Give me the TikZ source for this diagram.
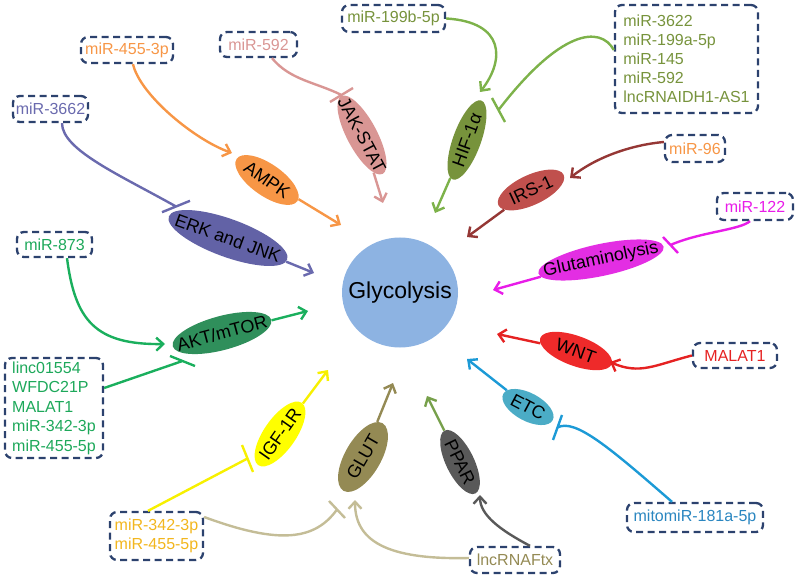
\documentclass[tikz,border=0pt]{standalone}
\usepackage{fontspec}
\setmainfont{Liberation Sans}
\usetikzlibrary{arrows.meta,shapes.geometric}
\definecolor{boxc}{RGB}{44,66,110}
\definecolor{orangeC}{HTML}{F79646}
\definecolor{pinkC}{HTML}{D99694}
\definecolor{hifC}{HTML}{77933C}
\definecolor{hifL}{HTML}{7DB24A}
\definecolor{irsC}{HTML}{C0504D}
\definecolor{irsL}{HTML}{953735}
\definecolor{erkC}{HTML}{6262A6}
\definecolor{erkL}{HTML}{6A6AAE}
\definecolor{magC}{HTML}{E32EE3}
\definecolor{magL}{HTML}{E81CE8}
\definecolor{aktC}{HTML}{2F8F5B}
\definecolor{aktL}{HTML}{1AAF5D}
\definecolor{aktT}{HTML}{1DA85A}
\definecolor{wntC}{HTML}{EE2A2A}
\definecolor{wntL}{HTML}{E52222}
\definecolor{etcC}{HTML}{4BACC6}
\definecolor{etcL}{HTML}{1C9AD6}
\definecolor{etcT}{HTML}{2A86C0}
\definecolor{igfC}{HTML}{FFFF00}
\definecolor{igfL}{HTML}{F7F000}
\definecolor{igfT}{HTML}{F2B61E}
\definecolor{glutC}{HTML}{948A54}
\definecolor{beige}{HTML}{C4BD97}
\definecolor{pparC}{HTML}{595959}
\definecolor{pparL}{HTML}{77A04B}
\definecolor{glyC}{HTML}{8DB3E2}
\begin{document}
\begin{tikzpicture}[x=1pt,y=-1pt,
  ell/.style={ellipse, inner sep=0pt, font=\fontsize{18}{20}\selectfont, text=black},
  box/.style={draw=boxc, line width=2.3pt, dash pattern=on 7pt off 4.5pt, rounded corners=7pt, inner sep=0pt, font=\fontsize{16}{19}\selectfont},
  con/.style={line width=2.4pt},
  act/.style={con, -{Straight Barb[length=7pt,width=13pt]}},
]
\useasboundingbox (0,0) rectangle (800,577);
% central node
\node[ellipse, fill=glyC, minimum width=116pt, minimum height=110pt, inner sep=0pt,
  font=\fontsize{23}{25}\selectfont] (gly) at (400,292.5) {\makebox[0pt]{Glycolysis}};
% pathway ellipses
\node[ell, fill=orangeC, minimum width=74pt, minimum height=32pt, rotate=-35] (ampk) at (267,180) {\makebox[0pt]{AMPK}};
\node[ell, fill=erkC, minimum width=126pt, minimum height=38pt, rotate=-20] (erk) at (228,238) {\makebox[0pt]{ERK and JNK}};
\node[ell, fill=pinkC, minimum width=88pt, minimum height=30pt, rotate=-62] (jak) at (362,135) {\makebox[0pt]{JAK-STAT}};
\node[ell, fill=hifC, minimum width=84pt, minimum height=28pt, rotate=70] (hif) at (467,140) {\makebox[0pt]{HIF-1α}};
\node[ell, fill=irsC, minimum width=72pt, minimum height=30pt, rotate=25] (irs) at (531,190) {\makebox[0pt]{IRS-1}};
\node[ell, fill=magC, minimum width=128pt, minimum height=32pt, rotate=12] (glm) at (601,260) {\makebox[0pt]{Glutaminolysis}};
\node[ell, fill=aktC, minimum width=102pt, minimum height=34pt, rotate=15] (akt) at (222,333) {\makebox[0pt]{AKT/mTOR}};
\node[ell, fill=wntC, minimum width=76pt, minimum height=30pt, rotate=-20] (wnt) at (576,351) {\makebox[0pt]{WNT}};
\node[ell, fill=etcC, minimum width=56pt, minimum height=28pt, rotate=-28] (etc) at (528,407) {\makebox[0pt]{ETC}};
\node[ell, fill=igfC, minimum width=76pt, minimum height=32pt, rotate=55] (igf) at (280,434) {\makebox[0pt]{IGF-1R}};
\node[ell, fill=glutC, minimum width=78pt, minimum height=36pt, rotate=60] (glut) at (363,457) {\makebox[0pt]{GLUT}};
\node[ell, fill=pparC, minimum width=70pt, minimum height=28pt, rotate=-64] (ppar) at (460,462) {\makebox[0pt]{PPAR}};
% regulator boxes
\node[box, text=orangeC, minimum width=92pt, minimum height=26pt] (b455) at (127,50) {miR-455-3p};
\node[box, text=pinkC, minimum width=77pt, minimum height=25pt] (b592) at (258.5,44.5) {miR-592};
\node[box, text=hifC, minimum width=103pt, minimum height=27pt] (b199b) at (393.5,18.5) {miR-199b-5p};
\node[box, text=hifC, minimum width=143pt, minimum height=108pt, align=left] (bhif) at (686.5,59)
  {miR-3622\\miR-199a-5p\\miR-145\\miR-592\\lncRNAIDH1-AS1};
\node[box, text=erkL, minimum width=75pt, minimum height=26pt] (b3662) at (50.5,109) {miR-3662};
\node[box, text=orangeC, minimum width=60pt, minimum height=27pt] (b96) at (695,148.5) {miR-96};
\node[box, text=magL, minimum width=76pt, minimum height=27pt] (b122) at (755,206.5) {miR-122};
\node[box, text=aktT, minimum width=75pt, minimum height=25pt] (b873) at (54.5,244.5) {miR-873};
\node[box, text=aktT, minimum width=98pt, minimum height=100pt, align=left,
  font=\fontsize{16}{19.5}\selectfont] (bakt) at (54,408)
  {linc01554\\WFDC21P\\MALAT1\\miR-342-3p\\miR-455-5p};
\node[box, text=wntL, minimum width=84pt, minimum height=25pt] (bmalat) at (735,355.5) {MALAT1};
\node[box, text=etcT, minimum width=136pt, minimum height=29pt] (bmito) at (695,517.5) {mitomiR-181a-5p};
\node[box, text=igfT, minimum width=93pt, minimum height=48pt, align=left,
  font=\fontsize{16}{18.5}\selectfont] (bigf) at (156.5,536) {miR-342-3p\\miR-455-5p};
\node[box, text=glutC, minimum width=90pt, minimum height=26pt] (bftx) at (515,560) {lncRNAFtx};
% connector ends
\coordinate (aAMPK) at (232,153);
\coordinate (aHIF) at (480,92);
\coordinate (aIRS) at (570,178);
\coordinate (aAKT) at (165,344);
\coordinate (aWNT) at (610,362);
\coordinate (aGLUT) at (355,500);
\coordinate (aPPAR) at (480,495);
\coordinate (iJAK) at (341.5,95);
\coordinate (iHIF) at (498.5,110);
\coordinate (iERK) at (176,206.5);
\coordinate (iGLM) at (670.5,245);
\coordinate (iAKT) at (182.5,361);
\coordinate (iIGF) at (247.5,458.5);
\coordinate (iGLUT) at (337,509.5);
\coordinate (iETC) at (557.5,427.5);
\coordinate (tAMPK) at (341,225);
\coordinate (tERK) at (314,273);
\coordinate (tJAK) at (383,203);
\coordinate (tHIF) at (435,213);
\coordinate (tIRS) at (467,237);
\coordinate (tGLM) at (493,290);
\coordinate (tWNT) at (497,334);
\coordinate (tETC) at (467,359);
\coordinate (tPPAR) at (427,396);
\coordinate (tGLUT) at (393,383);
\coordinate (tIGF) at (328,370);
\coordinate (tAKT) at (308,311);
% AMPK
\draw[act, orangeC] ([xshift=6pt]b455.south) .. controls (140,95) and (195,140) .. (aAMPK);
\draw[act, orangeC] (ampk) -- (tAMPK);
% ERK
\draw[con, erkL] ([xshift=11.5pt]b3662.south) .. controls (62,150) and (120,175) .. (iERK) ++(-14,5.7) -- ++(28,-11.4);
\draw[act, erkL] (erk) -- (tERK);
% JAK-STAT
\draw[con, pinkC] ([xshift=13.5pt]b592.south) .. controls (290,80) and (315,82) .. (iJAK) ++(-11.5,7) -- ++(23,-14);
\draw[act, pinkC] (jak) -- (tJAK);
% HIF
\draw[act, hifL] (b199b.east) .. controls (505,22) and (505,60) .. (aHIF);
\draw[con, hifL] ([yshift=9pt]bhif.west) .. controls (600,25) and (560,30) .. (iHIF) ++(-6.5,-12) -- ++(13,24);
\draw[act, hifL] (hif) -- (tHIF);
% IRS
\draw[act, irsL] ([yshift=6.5pt]b96.west) .. controls (630,145) and (595,158) .. (aIRS);
\draw[act, irsL] (irs) -- (tIRS);
% Glutaminolysis
\draw[con, magL] ([xshift=-5pt]b122.south) .. controls (740,230) and (700,232) .. (iGLM) ++(-7.5,-8) -- ++(15,16);
\draw[act, magL] (glm) -- (tGLM);
% AKT
\draw[act, aktL] ([xshift=12.5pt]b873.south) .. controls (75,320) and (95,345) .. (aAKT);
\draw[con, aktL] ([yshift=20pt]bakt.east) -- (iAKT) ++(-12.5,-5) -- ++(25,10);
\draw[act, aktL] (akt) -- (tAKT);
% WNT
\draw[act, wntL] (bmalat.west) .. controls (655,365) and (640,375) .. (aWNT);
\draw[act, wntL] (wnt) -- (tWNT);
% ETC
\draw[con, etcL] ([xshift=-23pt]bmito.north) .. controls (610,448) and (575,418) .. (iETC) ++(4.5,-12.5) -- ++(-9,25);
\draw[act, etcL] (etc) -- (tETC);
% IGF-1R
\draw[con, igfL] ([xshift=-8.5pt]bigf.north) -- (iIGF) ++(-5.5,-13.5) -- ++(11,27);
\draw[act, igfL] (igf) -- (tIGF);
% GLUT
\draw[con, beige] ([yshift=19pt]bigf.east) .. controls (280,545) and (315,540) .. (iGLUT) ++(-8,-8.5) -- ++(16,17);
\draw[act, beige] ([yshift=2pt]bftx.west) .. controls (385,560) and (355,540) .. (aGLUT);
\draw[act, glutC] (glut) -- (tGLUT);
% PPAR
\draw[act, pparC] ([xshift=15pt]bftx.north) .. controls (500,530) and (480,515) .. (aPPAR);
\draw[act, pparL] (ppar) -- (tPPAR);
\end{tikzpicture}
\end{document}
